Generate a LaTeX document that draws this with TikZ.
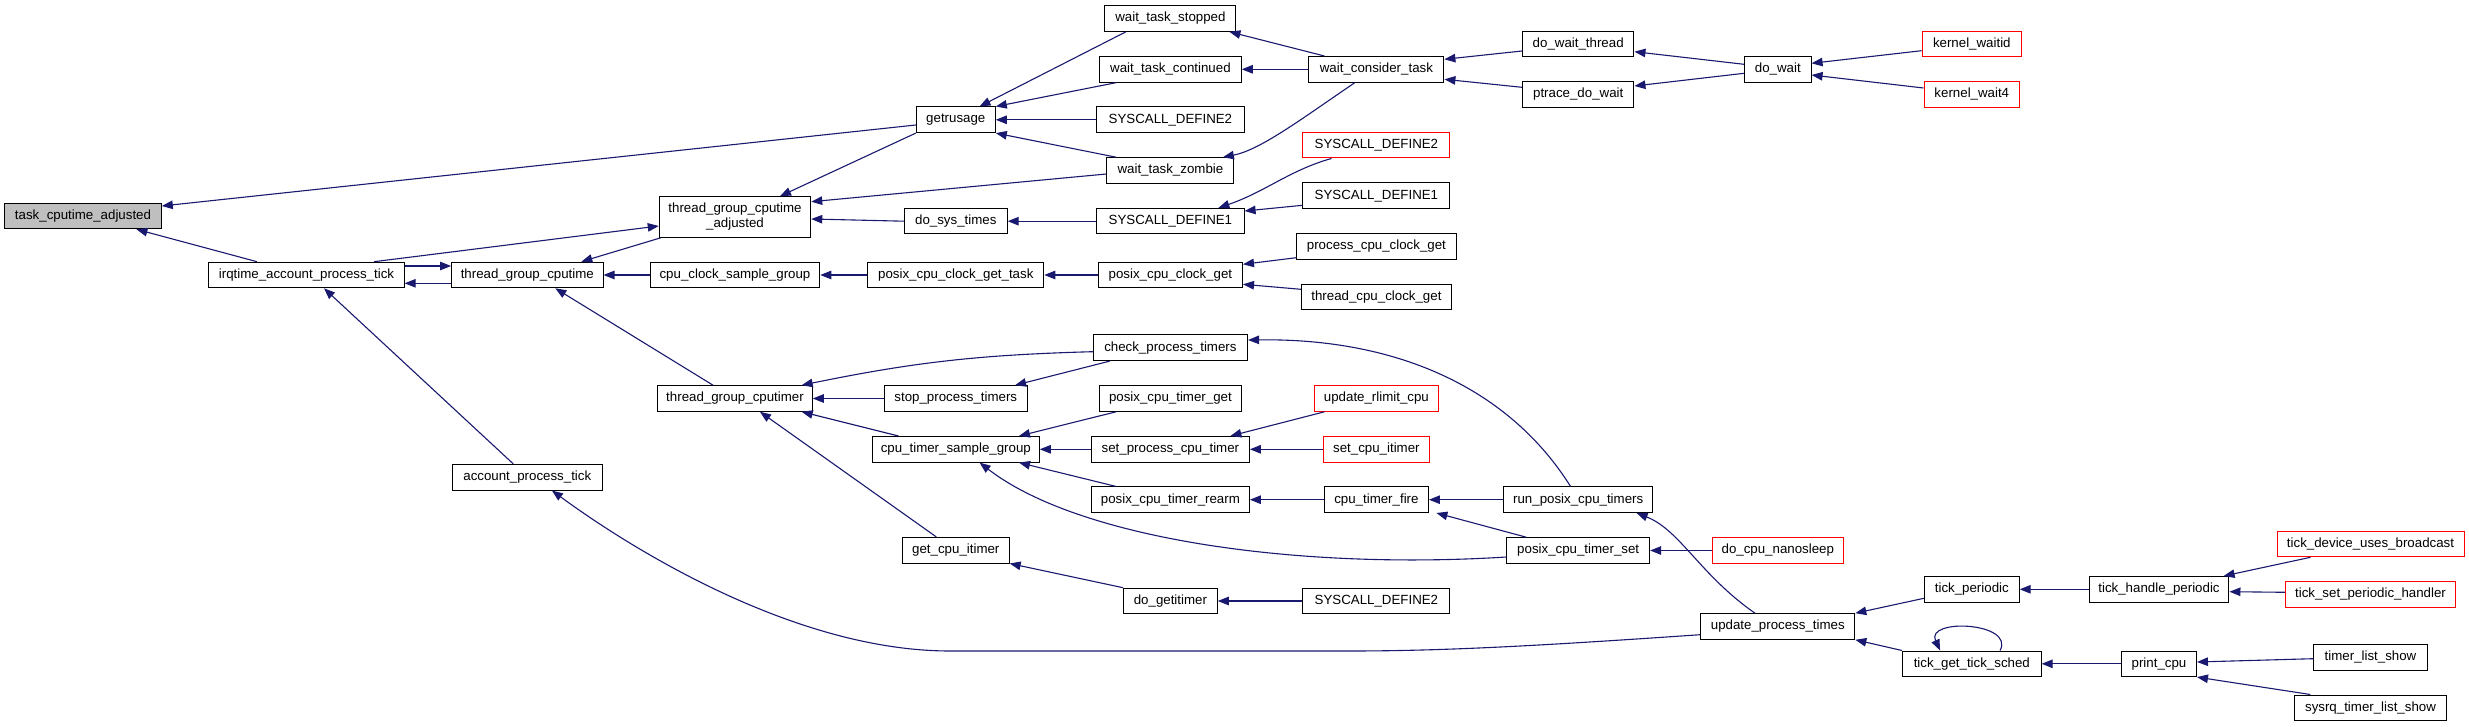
\documentclass[tikz,border=0pt]{standalone}
\usepackage{fontspec}
\setmainfont{Liberation Sans}
\usetikzlibrary{arrows.meta}
\definecolor{mblue}{RGB}{25,25,112}
\definecolor{redb}{RGB}{255,0,0}
\definecolor{rootgray}{RGB}{191,191,191}
\begin{document}
\begin{tikzpicture}[x=1pt,y=-1pt,
  box/.style={draw=black, line width=1pt, fill=white, inner sep=0pt, minimum height=25.6pt,
    font=\fontsize{13.3pt}{15pt}\selectfont, text=black},
  redbox/.style={box, draw=redb},
  rootbox/.style={box, fill=rootgray},
  conn/.style={draw=mblue, line width=1.1pt, -{Triangle[length=11pt,width=8.5pt]}}]
\fill[white] (0,0) rectangle (2469,727);
\useasboundingbox (0,0) rectangle (2469,727);
% column 0-3
\node[rootbox, minimum width=156.6pt] (task) at (83,216) {task\_cputime\_adjusted};
\node[box, minimum width=195.3pt] (irq) at (306.5,275) {irqtime\_account\_process\_tick};
\node[box, minimum width=151.4pt] (tgc) at (527.3,275) {thread\_group\_cputime};
\node[box, minimum width=149.5pt] (apt) at (527.3,477.2) {account\_process\_tick};
\node[box, minimum width=151.5pt, minimum height=40.6pt, align=center] (tgca) at (735,217) {thread\_group\_cputime\\\_adjusted};
\node[box, minimum width=169.6pt] (ccsg) at (735,275) {cpu\_clock\_sample\_group};
\node[box, minimum width=154.6pt] (tgcr) at (735,398.5) {thread\_group\_cputimer};
% column 4
\node[box, minimum width=79pt] (getr) at (955.8,119.8) {getrusage};
\node[box, minimum width=102.8pt] (dst) at (955.8,221.2) {do\_sys\_times};
\node[box, minimum width=176pt] (pccgt) at (955.8,275) {posix\_cpu\_clock\_get\_task};
\node[box, minimum width=142.7pt] (spt) at (955.8,398.5) {stop\_process\_timers};
\node[box, minimum width=167pt] (ctsg) at (955.8,449.3) {cpu\_timer\_sample\_group};
\node[box, minimum width=106.7pt] (gci) at (955.8,550.2) {get\_cpu\_itimer};
% column 5
\node[box, minimum width=131pt] (wts) at (1170.4,18.5) {wait\_task\_stopped};
\node[box, minimum width=141.8pt] (wtc) at (1170.4,69.3) {wait\_task\_continued};
\node[box, minimum width=147.4pt] (sd2a) at (1170.4,119.8) {SYSCALL\_DEFINE2};
\node[box, minimum width=127pt] (wtz) at (1170.4,170.5) {wait\_task\_zombie};
\node[box, minimum width=147.4pt] (sd1a) at (1170.4,221.2) {SYSCALL\_DEFINE1};
\node[box, minimum width=144.2pt] (pccg) at (1170.4,275) {posix\_cpu\_clock\_get};
\node[box, minimum width=154.3pt] (cpt) at (1170.4,347.8) {check\_process\_timers};
\node[box, minimum width=142.6pt] (pctg) at (1170.4,398.5) {posix\_cpu\_timer\_get};
\node[box, minimum width=157.9pt] (spct) at (1170.4,449.3) {set\_process\_cpu\_timer};
\node[box, minimum width=157.9pt] (pctr) at (1170.4,499.7) {posix\_cpu\_timer\_rearm};
\node[box, minimum width=93.7pt] (dgi) at (1170.4,601) {do\_getitimer};
% column 6
\node[box, minimum width=135pt] (wct) at (1376.4,69.3) {wait\_consider\_task};
\node[redbox, minimum width=146.9pt] (sd2r) at (1376.4,145.2) {SYSCALL\_DEFINE2};
\node[box, minimum width=146.9pt] (sd1b) at (1376.4,195.8) {SYSCALL\_DEFINE1};
\node[box, minimum width=159.2pt] (pcpcg) at (1376.4,246.5) {process\_cpu\_clock\_get};
\node[box, minimum width=149.8pt] (tcpcg) at (1376.4,297.2) {thread\_cpu\_clock\_get};
\node[redbox, minimum width=124.5pt] (urc) at (1376.4,398.5) {update\_rlimit\_cpu};
\node[redbox, minimum width=106.5pt] (sci) at (1376.4,449.3) {set\_cpu\_itimer};
\node[box, minimum width=104.1pt] (ctf) at (1376.4,499.7) {cpu\_timer\_fire};
\node[box, minimum width=146.9pt] (sd2b) at (1376.4,601) {SYSCALL\_DEFINE2};
% column 7
\node[box, minimum width=111.5pt] (dwt) at (1578.2,44) {do\_wait\_thread};
\node[box, minimum width=111.5pt] (pdw) at (1578.2,94.5) {ptrace\_do\_wait};
\node[box, minimum width=149.3pt] (rpct) at (1578.2,499.7) {run\_posix\_cpu\_timers};
\node[box, minimum width=142.8pt] (pcts) at (1578.2,550.5) {posix\_cpu\_timer\_set};
% column 8
\node[box, minimum width=66.5pt] (dow) at (1777.8,69.3) {do\_wait};
\node[redbox, minimum width=131pt] (dcn) at (1777.8,550.5) {do\_cpu\_nanosleep};
\node[box, minimum width=154pt] (upt) at (1777.8,626.5) {update\_process\_times};
% column 9
\node[redbox, minimum width=99.4pt] (kwid) at (1971.8,44) {kernel\_waitid};
\node[redbox, minimum width=95.6pt] (kw4) at (1971.8,94.5) {kernel\_wait4};
\node[box, minimum width=94.8pt] (tp) at (1971.8,589.3) {tick\_periodic};
\node[box, minimum width=138.6pt] (tgts) at (1971.8,663.8) {tick\_get\_tick\_sched};
% column 10
\node[box, minimum width=139.9pt] (thp) at (2159,589.3) {tick\_handle\_periodic};
\node[box, minimum width=74.9pt] (pcpu) at (2159,663.8) {print\_cpu};
% column 11
\node[redbox, minimum width=187pt] (tdub) at (2370.5,544) {tick\_device\_uses\_broadcast};
\node[redbox, minimum width=169.7pt] (tsph) at (2370.5,594.5) {tick\_set\_periodic\_handler};
\node[box, minimum width=113.4pt] (tls) at (2370.5,657.3) {timer\_list\_show};
\node[box, minimum width=151.9pt] (strls) at (2370.5,707.8) {sysrq\_timer\_list\_show};

% edges (caller -> callee)
\draw[conn] ([yshift=-5.2pt]getr.west) -- ([yshift=10pt]task.east);
\draw[conn] ([xshift=-49.5pt]irq.north) -- ([xshift=53.4pt]task.south);
\draw[conn] ([yshift=9pt]irq.east) -- ([yshift=9pt]tgc.west);
\draw[conn] ([yshift=-8.3pt]tgc.west) -- ([yshift=-8.3pt]irq.east);
\draw[conn] ([xshift=67.5pt]irq.north) -- ([yshift=-9pt]tgca.west);
\draw[conn] ([xshift=2pt]tgca.south west) -- ([xshift=54pt]tgc.north);
\draw[conn] (ccsg) -- (tgc);
\draw[conn] ([xshift=-22pt]tgcr.north) -- ([xshift=28pt]tgc.south);
\draw[conn] ([xshift=-14pt]apt.north) -- ([xshift=17.5pt]irq.south);
\draw[conn] ([yshift=-8.2pt]upt.west) .. controls (1550,645) and (1450,651) .. (1350,651) -- (950,651) .. controls (800,651) and (640,555) .. ([xshift=24.6pt]apt.south);
\draw[conn] (getr.south west) -- ([xshift=45pt]tgca.north);
\draw[conn] ([yshift=-3.5pt]wtz.west) -- ([yshift=15.3pt]tgca.east);
\draw[conn] (dst.west) -- ([yshift=-2pt]tgca.east);
\draw[conn] (sd1a) -- (dst);
\draw[conn] ([xshift=-44.5pt]wts.south) -- ([xshift=23.7pt]getr.north);
\draw[conn] ([xshift=-54pt]wtc.south) -- (getr.north east);
\draw[conn] (sd2a) -- (getr);
\draw[conn] ([xshift=-54.4pt]wtz.north) -- (getr.south east);
\draw[conn] ([xshift=-52pt]wct.north) -- ([xshift=-7pt]wts.south east);
\draw[conn] (wct) -- (wtc);
\draw[conn] ([xshift=-21.5pt]wct.south) .. controls (1300,120) and (1260,150) .. ([xshift=-11.5pt]wtz.north east);
\draw[conn] ([yshift=-7pt]dwt.west) -- ([yshift=10pt]wct.east);
\draw[conn] ([yshift=7.2pt]pdw.west) -- ([yshift=-10pt]wct.east);
\draw[conn] ([yshift=5pt]dow.west) -- ([yshift=-7.7pt]dwt.east);
\draw[conn] ([yshift=-4pt]dow.west) -- ([yshift=8.5pt]pdw.east);
\draw[conn] ([yshift=-6.7pt]kwid.west) -- ([yshift=6pt]dow.east);
\draw[conn] ([yshift=6.5pt]kw4.west) -- ([yshift=-5.7pt]dow.east);
\draw[conn] ([xshift=-44.9pt]sd2r.south) .. controls (1290,170) and (1265,192) .. ([xshift=48pt]sd1a.north);
\draw[conn] ([yshift=-9.5pt]sd1b.west) -- ([yshift=10.2pt]sd1a.east);
\draw[conn] (pccgt) -- (ccsg);
\draw[conn] (pccg) -- (pccgt);
\draw[conn] ([yshift=-11.2pt]pcpcg.west) -- ([yshift=10.7pt]pccg.east);
\draw[conn] ([yshift=7.9pt]tcpcg.west) -- ([yshift=-9.3pt]pccg.east);
\draw[conn] ([xshift=-7.7pt]rpct.north) .. controls (1510,390) and (1400,338) .. ([yshift=7.8pt]cpt.east);
\draw[conn] ([yshift=-3.9pt]cpt.west) to[bend right=5] ([xshift=66.7pt]tgcr.north);
\draw[conn] ([xshift=-60.6pt]cpt.south) -- ([xshift=59.3pt]spt.north);
\draw[conn] (spt) -- (tgcr);
\draw[conn] ([xshift=-57.3pt]ctsg.north) -- ([xshift=66.7pt]tgcr.south);
\draw[conn] ([xshift=-19.5pt]gci.north) -- ([xshift=25pt]tgcr.south);
\draw[conn] ([xshift=-54.3pt]pctg.south) -- ([xshift=63.2pt]ctsg.north);
\draw[conn] (spct) -- (ctsg);
\draw[conn] ([xshift=-54.5pt]pctr.north) -- ([xshift=63.2pt]ctsg.south);
\draw[conn] ([yshift=-6.5pt]pcts.west) .. controls (1300,570) and (1080,540) .. ([xshift=23.8pt]ctsg.south);
\draw[conn] (dgi.north west) -- (gci.south east);
\draw[conn] (sd2b) -- (dgi);
\draw[conn] ([xshift=-52pt]urc.south) -- ([xshift=60pt]spct.north);
\draw[conn] (sci) -- (spct);
\draw[conn] (ctf) -- (pctr);
\draw[conn] (rpct) -- (ctf);
\draw[conn] ([xshift=-52pt]pcts.north) -- ([xshift=60pt]ctf.south);
\draw[conn] (dcn) -- (pcts);
\draw[conn] ([xshift=-22.8pt]upt.north) .. controls (1700,575) and (1680,530) .. ([xshift=58.4pt]rpct.south);
\draw[conn] ([yshift=-9pt]tp.west) -- (upt.north east);
\draw[conn] (tgts.north west) -- (upt.south east);
\draw[conn] ([xshift=28.3pt]tgts.north) .. controls (2015,622) and (1925,618) .. ([xshift=-31.7pt]tgts.north);
\draw[conn] (thp) -- (tp);
\draw[conn] (pcpu) -- (tgts);
\draw[conn] ([xshift=-60pt]tdub.south) -- ([xshift=64.6pt]thp.north);
\draw[conn] ([yshift=2.2pt]tsph.west) -- ([yshift=-2.4pt]thp.east);
\draw[conn] ([yshift=-1.4pt]tls.west) -- ([yshift=1.8pt]pcpu.east);
\draw[conn] ([xshift=-60.2pt]strls.north) -- (pcpu.south east);
\end{tikzpicture}
\end{document}
